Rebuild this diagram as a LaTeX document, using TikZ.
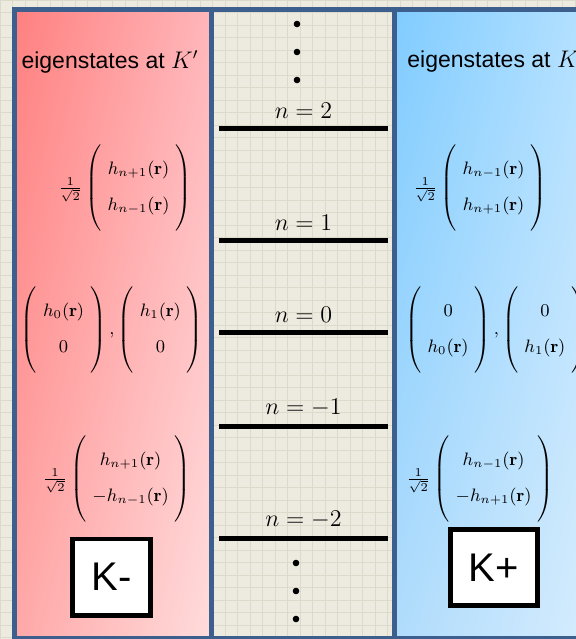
\documentclass[tikz,border=0pt]{standalone}
\usepackage{amsmath}
\usepackage{fontspec}
\setsansfont{Liberation Sans}
\usetikzlibrary{positioning,shadings}
\definecolor{paper}{HTML}{EDEBE0}
\definecolor{paperline}{HTML}{DCDACB}
\definecolor{frame}{HTML}{3C5F8E}
\definecolor{redUL}{RGB}{255,128,128}
\definecolor{redUR}{RGB}{255,182,186}
\definecolor{redLL}{RGB}{255,168,168}
\definecolor{redLR}{RGB}{255,220,220}
\definecolor{blueUL}{RGB}{128,204,255}
\definecolor{blueUR}{RGB}{184,226,255}
\definecolor{blueLL}{RGB}{176,220,252}
\definecolor{blueLR}{RGB}{216,237,253}
\newcommand{\spinor}[2]{\left(\rule[-18.5pt]{0pt}{42pt}\begin{array}{@{\hspace{3pt}}c@{\hspace{3pt}}}#1\\[7pt]#2\end{array}\right)}
\newcommand{\hr}[1]{h_{#1}(\mathbf{r})}
\newcommand{\isq}{\frac{1}{\sqrt{2}}}
\begin{document}
\begin{tikzpicture}[x=0.5pt,y=-0.5pt,
  panel/.style={draw=frame,line width=2.5pt},
  level/.style={line width=2.5pt},
  lab/.style={font=\fontsize{12}{14}\selectfont,inner sep=2pt,above=1.5pt},
  dot/.style={circle,fill,inner sep=0pt,minimum size=3.3pt},
  spin/.style={font=\fontsize{9}{11}\selectfont,inner sep=0pt},
  head/.style={font=\sffamily\fontsize{11.5}{14}\selectfont,inner sep=0pt},
  valley/.style={draw,line width=2.3pt,fill=white,minimum height=38.2pt,
    font=\sffamily\fontsize{20}{24}\selectfont}]
  \useasboundingbox (0,0) rectangle (576,639);
  \clip (0,0) rectangle (576,639);
  \fill[paper] (0,0) rectangle (576,639);
  \draw[paperline,step=6.25pt] (0,0) grid (576,639);
  \shade[upper left=redUL,upper right=redUR,lower left=redLL,lower right=redLR]
    (14.5,9) rectangle (211.5,638);
  \shade[upper left=blueUL,upper right=blueUR,lower left=blueLL,lower right=blueLR]
    (394.5,9) rectangle (600,638);
  \draw[panel] (14.5,9) rectangle (211.5,638);
  \draw[panel] (211.5,9) rectangle (394.5,638);
  \draw[panel] (394.5,9) rectangle (600,638);

  \foreach \y/\n [count=\i] in {128/2,240/1,332/0,426/-1,538/-2}{
    \coordinate (a\i) at (219,\y);
    \coordinate (b\i) at (388,\y);
    \draw[level] (a\i) -- (b\i) node[midway,lab] (n\i) {$n=\n$};
  }
  \foreach \y [count=\i] in {24,52,80}{
    \node[dot] (top\i) at (297,\y) {};
    \node[dot] (bot\i) at (296,\y+539) {};
  }

  \node[head] (hl) at (110,62) {eigenstates at $K'$};
  \node[head,anchor=west] (hr) at (407,62) {eigenstates at $K$};

  \node[spin] (l2) at (125,188) {$\isq\spinor{\hr{n+1}}{\hr{n-1}}$};
  \node[spin] (l0) at (112,330) {$\spinor{\hr{0}}{0},\spinor{\hr{1}}{0}$};
  \node[spin] (l4) at (117,479) {$\isq\spinor{\hr{n+1}}{-\hr{n-1}}$};
  \node[spin] (r2) at (480,188) {$\isq\spinor{\hr{n-1}}{\hr{n+1}}$};
  \node[spin,anchor=west] (r0) at (405,330) {$\spinor{0}{\hr{0}},\spinor{0}{\hr{1}}$};
  \node[spin] (r4) at (480,479) {$\isq\spinor{\hr{n-1}}{-\hr{n+1}}$};

  \node[valley,minimum width=39.2pt] (km) at (111.5,577) {K-};
  \node[valley,minimum width=43.7pt] (kp) at (494,567.5) {K+};
\end{tikzpicture}
\end{document}
